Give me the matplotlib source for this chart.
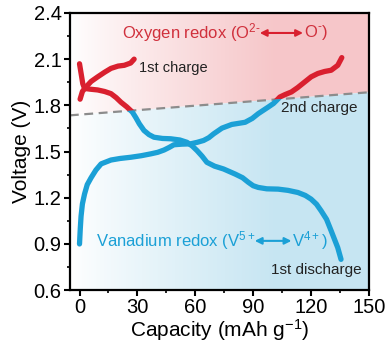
import numpy as np
import matplotlib
matplotlib.use("Agg")
import matplotlib.pyplot as plt
from matplotlib.patches import Polygon
from matplotlib.ticker import MultipleLocator

plt.rcParams['font.family'] = ['Liberation Sans', 'DejaVu Sans']
plt.rcParams['mathtext.fontset'] = 'custom'
plt.rcParams['mathtext.rm'] = 'Liberation Sans'
plt.rcParams['mathtext.default'] = 'regular'

# --- data ---
charge1_x = [0.3, 1.5, 3.4, 6.0, 9.4, 13.0, 16.3, 20.0, 23.2, 26.5, 28.3]
charge1_v = [1.84, 1.89, 1.92, 1.955, 1.985, 2.015, 2.04, 2.055, 2.06, 2.075, 2.10]

discharge1_x = [0, 1.7, 2.6, 5.5, 9.4, 13.0, 16.3, 19.0, 21.5, 24.5, 27.4, 29.2, 31.0, 33.4,
                36.0, 38.6, 43.0, 47.2, 52.0, 55.7, 58.5, 60.9, 63.5, 66.0, 70.0, 74.6, 80.6,
                84.5, 87.5, 90.0, 92.6, 97.0, 102.9, 108.0, 113.2, 117.0, 120.0, 122.8, 125.2,
                128.0, 130.4, 133.8, 135.5]
discharge1_v = [2.07, 1.94, 1.91, 1.905, 1.90, 1.89, 1.876, 1.85, 1.82, 1.79, 1.756, 1.72, 1.68, 1.637,
                1.61, 1.593, 1.585, 1.583, 1.575, 1.56, 1.535, 1.506, 1.47, 1.43, 1.405, 1.387, 1.354,
                1.33, 1.30, 1.278, 1.267, 1.258, 1.256, 1.248, 1.234, 1.215, 1.191, 1.158, 1.115,
                1.06, 0.985, 0.876, 0.80]

charge2_x = [0, 0.4, 0.8, 1.5, 2.6, 4.0, 6.0, 8.5, 11.2, 16.3, 21.0, 26.6, 32.0, 36.9, 40.5, 43.8,
             46.5, 48.9, 53.0, 57.5, 61.0, 64.3, 67.0, 69.5, 73.8, 78.9, 85.8, 89.5, 92.6, 95.5,
             97.8, 100.5, 102.1, 103.8, 106.5, 109.8, 113.0, 116.7, 120.0, 123.5, 127.0, 130.4,
             133.8, 135.9]
charge2_v = [0.90, 1.00, 1.08, 1.16, 1.224, 1.285, 1.33, 1.38, 1.42, 1.445, 1.455, 1.463, 1.473,
             1.485, 1.495, 1.51, 1.527, 1.544, 1.548, 1.55, 1.56, 1.572, 1.59, 1.615, 1.652,
             1.676, 1.69, 1.715, 1.746, 1.77, 1.789, 1.812, 1.832, 1.854, 1.87, 1.887, 1.915,
             1.952, 1.985, 2.007, 2.02, 2.028, 2.06, 2.11]

boundary_x = [-5, 150]
boundary_v = [1.735, 1.885]

RED = "#d9202f"
BLUE = "#1ba0d6"

fig = plt.figure(figsize=(3.86, 3.5), dpi=100)
ax = fig.add_axes([0.181, 0.171, 0.775, 0.792])
ax.set_xlim(-5, 150)
ax.set_ylim(0.6, 2.4)

# background regions with white -> colour gradient
xs = np.linspace(-5, 150, 300)
t = np.clip((xs + 5) / 105, 0, 1) ** 0.9
upper = Polygon([(-5, boundary_v[0]), (150, boundary_v[1]), (150, 2.4), (-5, 2.4)],
                closed=True, transform=ax.transData, facecolor='none', edgecolor='none')
lower = Polygon([(-5, boundary_v[0]), (150, boundary_v[1]), (150, 0.6), (-5, 0.6)],
                closed=True, transform=ax.transData, facecolor='none', edgecolor='none')
ax.add_patch(upper)
ax.add_patch(lower)
for col, clip in [((0.965, 0.78, 0.79), upper), ((0.78, 0.9, 0.95), lower)]:
    img = np.ones((2, len(xs), 3))
    for k in range(3):
        img[:, :, k] = 1 - t * (1 - col[k])
    im = ax.imshow(img, extent=[-5, 150, 0.6, 2.4], aspect='auto', zorder=0,
                   interpolation='bilinear')
    im.set_clip_path(clip)

ax.plot(boundary_x, boundary_v, color="#8c8c8c", lw=1.6, ls=(0, (4, 2.5)), zorder=2)

# curves: red above the boundary, blue below
for cx, cv in [(charge1_x, charge1_v), (discharge1_x, discharge1_v), (charge2_x, charge2_v)]:
    for col, clip in [(RED, upper), (BLUE, lower)]:
        ln, = ax.plot(cx, cv, color=col, lw=3.8, solid_capstyle='round',
                      solid_joinstyle='round', zorder=3)
        ln.set_clip_path(clip)

# text annotations
ax.text(22.1, 2.27, "Oxygen redox (O$^{2\u2010}$", color="#d0303c", fontsize=12,
        ha='left', va='center')
ax.annotate("", xy=(115.8, 2.27), xytext=(93.4, 2.27),
            arrowprops=dict(arrowstyle='<|-|>', color=RED, lw=1.5,
                            mutation_scale=10, shrinkA=0, shrinkB=0))
ax.text(116.3, 2.27, "O$^{\u2010}$)", color="#d0303c", fontsize=12, ha='left', va='center')

ax.text(8.7, 0.92, "Vanadium redox (V$^{5+}$", color=BLUE, fontsize=12,
        ha='left', va='center')
ax.annotate("", xy=(109.8, 0.92), xytext=(90.8, 0.92),
            arrowprops=dict(arrowstyle='<|-|>', color=BLUE, lw=1.5,
                            mutation_scale=10, shrinkA=0, shrinkB=0))
ax.text(110.2, 0.92, "V$^{4+}$)", color=BLUE, fontsize=12, ha='left', va='center')

ax.text(30.9, 2.04, "1st charge", color="#222222", fontsize=10.5, ha='left', va='center')
ax.text(104.3, 1.78, "2nd charge", color="#222222", fontsize=11, ha='left', va='center')
ax.text(99.0, 0.73, "1st discharge", color="#222222", fontsize=11, ha='left', va='center')

# axes styling
ax.set_xticks([0, 30, 60, 90, 120, 150])
ax.set_yticks([0.6, 0.9, 1.2, 1.5, 1.8, 2.1, 2.4])
ax.set_yticklabels(["0.6", "0.9", "1.2", "1.5", "1.8", "2.1", "2.4"])
ax.xaxis.set_minor_locator(MultipleLocator(15))
ax.yaxis.set_minor_locator(MultipleLocator(0.15))
ax.tick_params(which='major', direction='out', length=4, width=1.5, labelsize=14.5, pad=2)
ax.tick_params(which='minor', direction='out', length=2.5, width=1.2)
for s in ax.spines.values():
    s.set_linewidth(1.6)
ax.set_xlabel("Capacity (mAh g$^{-1}$)", fontsize=15, labelpad=0)
ax.set_ylabel("Voltage (V)", fontsize=15, labelpad=2)

fig.savefig("out.png", dpi=100)
